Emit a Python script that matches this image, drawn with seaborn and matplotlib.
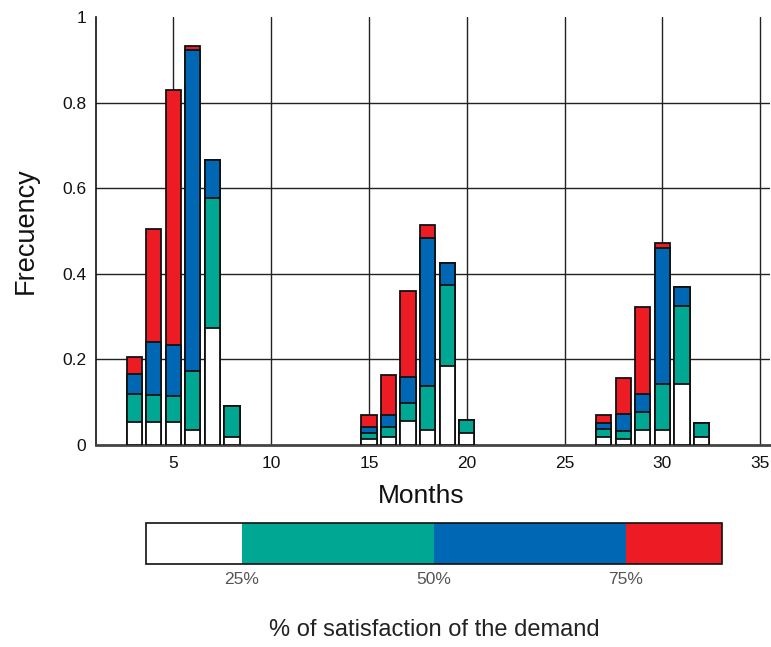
import numpy as np
import pandas as pd
import matplotlib
matplotlib.use("Agg")
import matplotlib.pyplot as plt
import matplotlib.colors as mcolors
import seaborn as sns

# months with observations
months = [3, 4, 5, 6, 7, 8, 15, 16, 17, 18, 19, 20, 27, 28, 29, 30, 31, 32]

# frequency share per satisfaction band (stacked bottom -> top)
sat_0_25 = [0.054, 0.054, 0.054, 0.035, 0.273, 0.018,
            0.014, 0.018, 0.055, 0.036, 0.185, 0.029,
            0.018, 0.015, 0.036, 0.036, 0.142, 0.018]
sat_25_50 = [0.065, 0.063, 0.060, 0.137, 0.303, 0.073,
             0.014, 0.023, 0.044, 0.103, 0.188, 0.029,
             0.019, 0.018, 0.040, 0.106, 0.183, 0.034]
sat_50_75 = [0.048, 0.124, 0.120, 0.752, 0.091, 0.0,
             0.015, 0.028, 0.059, 0.344, 0.053, 0.0,
             0.014, 0.040, 0.044, 0.319, 0.044, 0.0]
sat_75_100 = [0.038, 0.263, 0.595, 0.008, 0.0, 0.0,
              0.026, 0.095, 0.203, 0.032, 0.0, 0.0,
              0.018, 0.084, 0.202, 0.011, 0.0, 0.0]

band_names = ["0-25%", "25-50%", "50-75%", "75-100%"]
band_colors = ["#ffffff", "#00a894", "#0067b4", "#ed1c24"]
legend_ticks = [25, 50, 75]
legend_labels = ["25%", "50%", "75%"]

df = pd.DataFrame({
    "Month": months,
    "0-25%": sat_0_25,
    "25-50%": sat_25_50,
    "50-75%": sat_50_75,
    "75-100%": sat_75_100,
})
# cumulative tops, so layers can be drawn from the tallest down
cum = df[band_names].cumsum(axis=1)

sns.set_theme(style="white")
plt.rcParams["font.family"] = ["Liberation Sans", "DejaVu Sans"]

fig = plt.figure(figsize=(7.71, 6.47), dpi=100)
ax = fig.add_axes([0.1245, 0.3122, 0.8742, 0.6615])

for name, color in reversed(list(zip(band_names, band_colors))):
    sns.barplot(x=df["Month"], y=cum[name], native_scale=True, width=0.78,
                color=color, saturation=1, edgecolor="#111111", linewidth=1.3,
                errorbar=None, ax=ax, zorder=3)

ax.set_xlim(1.05, 35.5)
ax.set_ylim(0, 1)
ax.set_xticks([5, 10, 15, 20, 25, 30, 35])
ax.set_yticks([0, 0.2, 0.4, 0.6, 0.8, 1.0])
ax.set_yticklabels(["0", "0.2", "0.4", "0.6", "0.8", "1"])
ax.tick_params(axis="both", length=0, labelsize=12.5, colors="#111111")
ax.tick_params(axis="x", pad=8)
ax.tick_params(axis="y", pad=7)

ax.grid(True, color="#222222", linewidth=1.0, zorder=0)
ax.set_axisbelow(True)
ax.get_ygridlines()[-1].set_visible(False)
ax.get_ygridlines()[0].set_visible(False)

for side in ["top", "right"]:
    ax.spines[side].set_visible(False)
ax.spines["left"].set_color("#111111")
ax.spines["left"].set_linewidth(1.2)
ax.spines["bottom"].set_color("#444444")
ax.spines["bottom"].set_linewidth(2.0)

ax.set_xlabel("Months", fontsize=19, color="#111111")
ax.set_ylabel("Frecuency", fontsize=19.5, color="#111111")
ax.xaxis.set_label_coords(0.482, -0.09)
ax.yaxis.set_label_coords(-0.085, 0.5)

# colour-band legend below the chart
cax = fig.add_axes([0.1894, 0.1283, 0.747, 0.0634])
cmap = mcolors.ListedColormap(band_colors)
norm = mcolors.BoundaryNorm([12.5, 25, 50, 75, 87.5], cmap.N)
cb = fig.colorbar(plt.cm.ScalarMappable(norm=norm, cmap=cmap), cax=cax,
                  orientation="horizontal", spacing="proportional",
                  ticks=legend_ticks)
cb.minorticks_off()
cb.ax.set_xticklabels(legend_labels)
cb.ax.tick_params(direction="in", length=4, width=1.2, colors="#111111",
                  labelcolor="#555555", labelsize=12.5, pad=6,
                  top=True, bottom=True)
cb.outline.set_edgecolor("#111111")
cb.outline.set_linewidth(1.2)

fig.text(434 / 771, 1 - 630 / 647, "% of satisfaction of the demand",
         ha="center", va="center", fontsize=17, color="#222222")

fig.savefig("out.png", dpi=100)
